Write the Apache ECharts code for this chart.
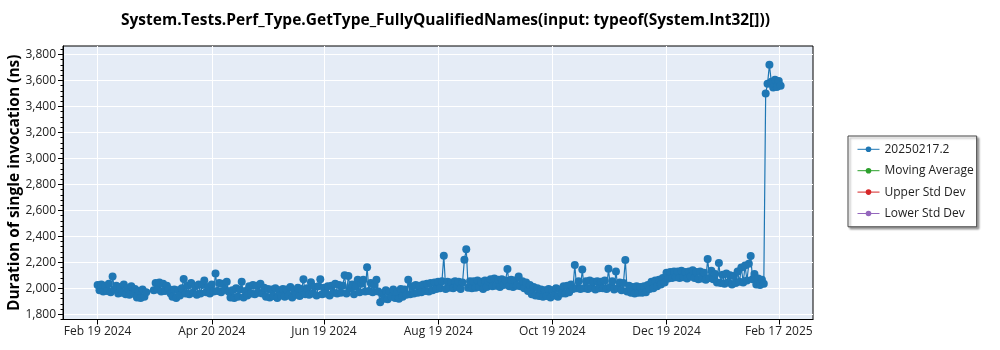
<!DOCTYPE html>
<html>
<head>
<meta charset="utf-8">
<script src="https://cdn.jsdelivr.net/npm/echarts@6/dist/echarts.min.js"></script>
<style>html,body{margin:0;padding:0;background:#fff;}#c{width:1000px;height:350px;}</style>
</head>
<body>
<div id="c"></div>
<script>
// ---- data ----
const titleText = 'System.Tests.Perf_Type.GetType_FullyQualifiedNames(input: typeof(System.Int32[]))';
const yAxisTitle = 'Duration of single invocation (ns)';
const seriesNames = ['20250217.2', 'Moving Average', 'Upper Std Dev', 'Lower Std Dev'];
const startDate = [2024, 2, 19]; // first daily measurement (Feb 19 2024)
// one value per day from startDate (null = no run that day)
const values = [
  2025, 1985, 2030, 1975, 2020, 1980, 2035, 1970, 2090, 1990,
  2020, 1960, 2010, 1965, 2030, 1955, 2000, 1950, 2015, 1960,
  1995, 1930, 1980, 1925, 1990, 1935, 1970, null, null, null,
  1985, 2040, 1990, 2045, 1975, 2035, 1980, 2020, 1995, 1960,
  1935, 1990, 1925, 1985, 1945, 2000, 2072, 1960, 2020, 1955,
  2040, 1965, 2015, 1950, 2030, 1960, 2025, 2060, 1970, 2010,
  1960, 2030, 1975, 2115, 1980, 2040, 1970, 2035, 1990, 2050,
  1975, 1930, 1985, 1925, 2000, 1935, 1990, 2050, 1930, 1980,
  1945, 2015, 1960, 2025, 1955, 2020, 1965, 2035, 1960, 2005,
  1935, 1995, 1930, 1990, 1940, 2000, 1925, 1985, 1945, 1995,
  1935, 1990, 1945, 2010, 1930, 1985, 1950, 2005, 1940, 1995,
  2069, 1955, 2000, 1950, 2046, 1960, 2010, 1945, 2015, 2069,
  1955, 2005, 1960, 2015, 1945, 2020, 1965, 2035, 1960, 2025,
  1965, 2020, 2100, 1960, 2095, 2000, 2030, 1955, 2015, 2065,
  1970, 2035, 2065, 1975, 2162, 1980, 2040, 1970, 2025, 2065,
  1975, 1892, 1960, 1920, 1985, 1915, 1970, 1935, 1990, 1925,
  1965, 1920, 1995, 1935, 1990, 1950, 2065, 1955, 2015, 1960,
  2025, 1965, 2020, 1970, 2030, 1980, 2035, 1975, 2040, 1985,
  2045, 1995, 2050, 2000, 2055, 2250, 1995, 2050, 2005, 2045,
  2000, 2055, 2010, 2050, 1995, 2045, 2220, 2300, 2005, 2055,
  2000, 2055, 2005, 2060, 2010, 2050, 1995, 2060, 2010, 2050,
  2070, 2015, 2075, 2020, 2065, 2010, 2070, 2025, 2060, 2148,
  2015, 2065, 2010, 2060, 2020, 2090, 2015, 2055, 2000, 2045,
  1980, 2025, 1955, 2010, 1945, 2000, 1940, 1990, 1935, 1985,
  1940, 1995, 1930, 1985, 1945, 2000, 1935, 1990, 1960, 2015,
  1960, 2020, 1970, 2030, 1995, 2180, 2000, 2055, 1995, 2145,
  2000, 2055, 1995, 2060, 2005, 2050, 1990, 2055, 2000, 2050,
  2000, 2060, 1995, 2150, 2010, 2055, 1990, 2130, 2000, 2045,
  1985, 2040, 2218, 1975, 2020, 1965, 2010, 1960, 2015, 1965,
  2010, 1965, 2015, 1970, 2025, 1995, 2050, 2000, 2060, 2015,
  2065, 2030, 2080, 2045, 2120, 2075, 2125, 2080, 2130, 2085,
  2130, 2080, 2135, 2085, 2125, 2075, 2130, 2090, 2140, 2080,
  2125, 2070, 2130, 2075, 2120, 2065, 2225, 2080, 2135, 2070,
  2110, 2045, 2195, 2040, 2105, 2035, 2115, 2045, 2100, 2030,
  2095, 2040, 2130, 2050, 2160, 2045, 2175, 2060, 2190, 2248,
  2070, 2110, 2030, 2075, 2025, 2065, 2035, 3500, 3575, 3720,
  3590, 3545, 3605, 3550, 3595, 3560
];
const movingAverage = [];
const upperStdDev = [];
const lowerStdDev = [];
const xTickLabels = ['Feb 19 2024', 'Apr 20 2024', 'Jun 19 2024', 'Aug 19 2024', 'Oct 19 2024', 'Dec 19 2024', 'Feb 17 2025'];
const yTickValues = [1800, 2000, 2200, 2400, 2600, 2800, 3000, 3200, 3400, 3600, 3800];
const xRange = ['Jan 31 2024 12', 'Mar 07 2025 07']; // visible date window (day, hour)
const yRange = [1760, 3865];

// ---- helpers ----
const MONTHS = ['Jan','Feb','Mar','Apr','May','Jun','Jul','Aug','Sep','Oct','Nov','Dec'];
const DAY = 86400000;
function parseLabel(s) {
  const p = s.split(' ');
  return Date.UTC(+p[2], MONTHS.indexOf(p[0]), +p[1], p[3] ? +p[3] : 0);
}
const t0 = Date.UTC(startDate[0], startDate[1] - 1, startDate[2]);
const mainData = values.map((v, i) => [t0 + i * DAY, v]);
const xTickValues = xTickLabels.map(parseLabel);
const yMinor = [];
for (let v = 1800 - 40; v <= 3860; v += 40) if (v % 200 !== 0) yMinor.push(v);

const FONT = '"Open Sans", "Liberation Sans", sans-serif';
const chart = echarts.init(document.getElementById('c'), null, {renderer: 'canvas'});
chart.setOption({
  animation: false,
  backgroundColor: '#ffffff',
  title: {
    text: titleText, left: 116, top: 8,
    textStyle: {fontFamily: FONT, fontSize: 15.5, fontWeight: 'bold', color: '#000'}
  },
  legend: {
    data: seriesNames, orient: 'vertical', left: 848, top: 136,
    itemWidth: 22, itemHeight: 7, itemGap: 9.4,
    padding: [7.3, 3, 7.3, 9],
    borderColor: '#444', borderWidth: 1, backgroundColor: '#fff',
    shadowColor: 'rgba(0,0,0,0.35)', shadowBlur: 2, shadowOffsetX: 2, shadowOffsetY: 2,
    lineStyle: {width: 1},
    textStyle: {fontFamily: FONT, fontSize: 12, color: '#222'}
  },
  grid: {
    left: 63, right: 187, top: 46, bottom: 30.5,
    outerBoundsMode: 'none', containLabel: false,
    show: true, backgroundColor: '#E5ECF6', borderColor: '#000', borderWidth: 1
  },
  xAxis: {
    type: 'value', min: parseLabel(xRange[0]), max: parseLabel(xRange[1]),
    axisLine: {show: true, lineStyle: {color: '#000', width: 1}},
    axisTick: {show: true, length: 5, lineStyle: {color: '#000'}, customValues: xTickValues},
    axisLabel: {
      customValues: xTickValues, margin: 6, color: '#222', fontFamily: FONT, fontSize: 12,
      formatter: v => { const i = xTickValues.indexOf(v); return i >= 0 ? xTickLabels[i] : ''; }
    },
    splitLine: {show: true, lineStyle: {color: '#ffffff', width: 1}}
  },
  yAxis: [{
    type: 'value', min: yRange[0], max: yRange[1],
    name: yAxisTitle, nameLocation: 'middle', nameGap: 40, nameMoveOverlap: false,
    nameTextStyle: {fontFamily: FONT, fontSize: 15.5, fontWeight: 'bold', color: '#000'},
    axisLine: {show: true, lineStyle: {color: '#000', width: 1}},
    axisTick: {show: true, length: 5, lineStyle: {color: '#000'}, customValues: yTickValues},
    axisLabel: {
      customValues: yTickValues, margin: 7, color: '#222', fontFamily: FONT, fontSize: 12,
      formatter: v => v.toLocaleString('en-US')
    },
    splitLine: {show: true, lineStyle: {color: '#ffffff', width: 1}}
  }, {
    type: 'value', min: yRange[0], max: yRange[1], position: 'left',
    axisLine: {show: false},
    axisTick: {show: true, length: 2.5, lineStyle: {color: '#000'}, customValues: yMinor},
    axisLabel: {show: false},
    splitLine: {show: false}
  }],
  series: [
    {
      name: seriesNames[0], type: 'line', data: mainData, connectNulls: true,
      symbol: 'circle', symbolSize: 8, showSymbol: true,
      lineStyle: {color: '#1f77b4', width: 1.2},
      itemStyle: {color: '#1f77b4'}
    },
    {name: seriesNames[1], type: 'line', data: movingAverage, symbol: 'circle', symbolSize: 6,
     lineStyle: {color: '#2ca02c'}, itemStyle: {color: '#2ca02c'}},
    {name: seriesNames[2], type: 'line', data: upperStdDev, symbol: 'circle', symbolSize: 6,
     lineStyle: {color: '#d62728'}, itemStyle: {color: '#d62728'}},
    {name: seriesNames[3], type: 'line', data: lowerStdDev, symbol: 'circle', symbolSize: 6,
     lineStyle: {color: '#9467bd'}, itemStyle: {color: '#9467bd'}}
  ]
});
</script>
</body>
</html>
